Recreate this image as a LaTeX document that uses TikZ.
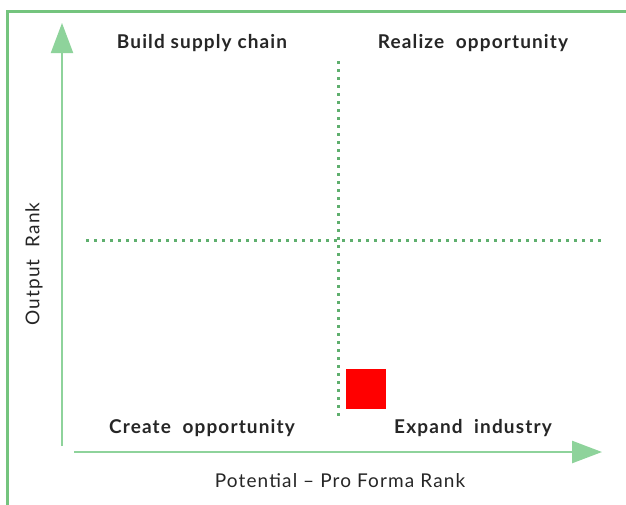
\documentclass[tikz,border=0pt]{standalone}
\usepackage{fontspec}
\setmainfont{Lato}
\newfontfamily\chartfont[LetterSpace=6]{Lato}
\usetikzlibrary{arrows.meta,positioning}

\definecolor{framegreen}{HTML}{74C47E}
\definecolor{axisgreen}{HTML}{8ED39B}
\definecolor{dotgreen}{HTML}{5FAF6E}
\definecolor{boxred}{HTML}{FF0000}

\tikzset{
  axis/.style={draw=axisgreen, line width=2.5pt, -{Triangle[width=22pt,length=30pt]}},
  quadlabel/.style={font=\chartfont\fontsize{19}{22}\selectfont\bfseries, text=black!85, inner sep=0pt},
  axislabel/.style={font=\chartfont\fontsize{19}{22}\selectfont, text=black!85, inner sep=0pt},
  divider/.style={draw=dotgreen, line width=3pt, dash pattern=on 3pt off 5pt}
}

\begin{document}
\begin{tikzpicture}[x=1pt, y=-1pt]
  \useasboundingbox (0,0) rectangle (626,504);
  \clip (0,0) rectangle (626,504);
  \fill[white] (0,0) rectangle (626,504);
  % outer frame
  \draw[framegreen, line width=3pt] (7,11) rectangle (660,540);

  % axes
  \coordinate (yfoot) at (62,446);
  \coordinate (ytip) at (62,23);
  \coordinate (xfoot) at (74,452);
  \coordinate (xtip) at (602,452);
  \draw[axis, line width=2pt] (yfoot) -- (ytip);
  \draw[axis] (xfoot) -- (xtip);

  % quadrant dividers
  \coordinate (vtop) at (338,61);
  \coordinate (vbot) at (338,417);
  \coordinate (hleft) at (86,240);
  \coordinate (hright) at (604,240);
  \draw[divider] (vtop) -- (vbot);
  \draw[divider] (hleft) -- (hright);

  % quadrant labels
  \node[quadlabel] (build) at (202,43) {Build supply chain};
  \node[quadlabel] (realize) at (473,43) {Realize\ \ opportunity};
  \node[quadlabel] (create) at (202,428) {Create\ \ opportunity};
  \node[quadlabel] (expand) at (473,428) {Expand\ \ industry};

  % axis labels
  \node[axislabel] (potential) at (340,481) {Potential – Pro Forma Rank};
  \node[axislabel, rotate=90] (output) at (34,264) {Output\ \ Rank};

  % marker
  \node[fill=boxred, minimum size=40pt, inner sep=0pt] (marker) at (366,389) {};
\end{tikzpicture}
\end{document}
